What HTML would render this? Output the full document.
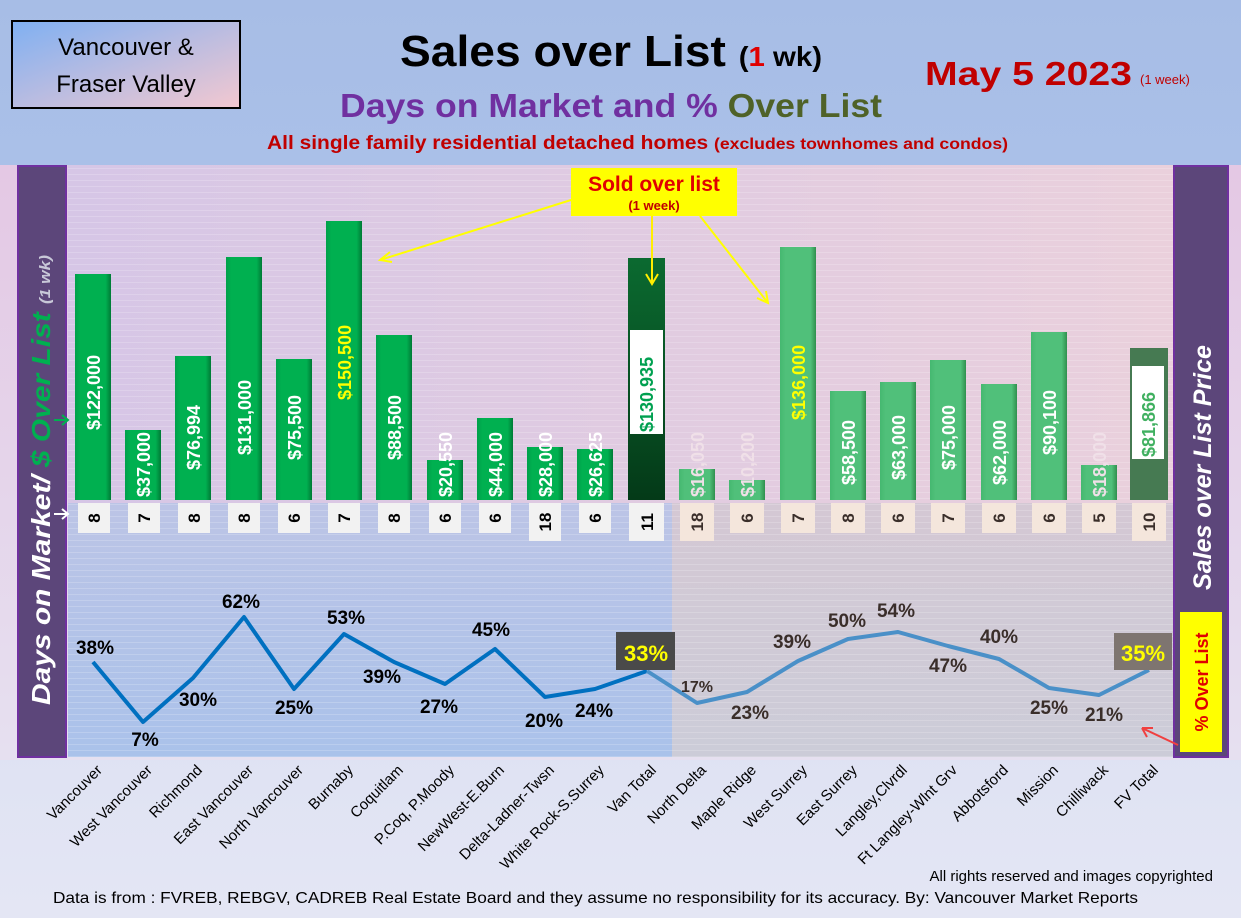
<!DOCTYPE html>
<html><head><meta charset="utf-8"><style>
body{margin:0;width:1241px;height:918px;overflow:hidden;font-family:"Liberation Sans",sans-serif}
</style></head><body>
<svg width="1241" height="918" xmlns="http://www.w3.org/2000/svg" font-family="Liberation Sans, sans-serif">
<defs>
<linearGradient id="hdr" x1="0" y1="0" x2="0" y2="1"><stop offset="0" stop-color="#a7bde6"/><stop offset="1" stop-color="#aac0e8"/></linearGradient>
<linearGradient id="up" x1="0" y1="0" x2="1" y2="0"><stop offset="0" stop-color="#d6c6e6"/><stop offset="1" stop-color="#ead0dc"/></linearGradient>
<linearGradient id="lowL" x1="0" y1="0" x2="0" y2="1"><stop offset="0" stop-color="#bcc4e6"/><stop offset="1" stop-color="#aac2ea"/></linearGradient>
<linearGradient id="lowR" x1="0" y1="0" x2="0" y2="1"><stop offset="0" stop-color="#d4c8d4"/><stop offset="1" stop-color="#ccccd8"/></linearGradient>
<linearGradient id="bot" x1="0" y1="0" x2="0" y2="1"><stop offset="0" stop-color="#c8d2ee"/><stop offset="1" stop-color="#e4e6f4"/></linearGradient>
<linearGradient id="side" x1="0" y1="0" x2="0" y2="1"><stop offset="0" stop-color="#e4c8e4"/><stop offset="1" stop-color="#e6e0f0"/></linearGradient>
<linearGradient id="gL" x1="0" y1="0" x2="1" y2="0"><stop offset="0" stop-color="#00a04a"/><stop offset=".15" stop-color="#00b050"/><stop offset=".85" stop-color="#00b050"/><stop offset="1" stop-color="#007a36"/></linearGradient>
<linearGradient id="gR" x1="0" y1="0" x2="1" y2="0"><stop offset="0" stop-color="#45b870"/><stop offset=".15" stop-color="#50c07a"/><stop offset=".85" stop-color="#50c07a"/><stop offset="1" stop-color="#30904e"/></linearGradient>
<linearGradient id="gV" x1="0" y1="0" x2="0" y2="1"><stop offset="0" stop-color="#0b6a30"/><stop offset="1" stop-color="#043a18"/></linearGradient>
<linearGradient id="box" x1="0" y1="0" x2="1" y2="1"><stop offset="0" stop-color="#7fb0f2"/><stop offset="1" stop-color="#f3c8d0"/></linearGradient>
<pattern id="str" width="10" height="6" patternUnits="userSpaceOnUse"><rect width="10" height="1" fill="#ffffff" opacity=".18"/></pattern>
</defs>
<rect width="1241" height="918" fill="url(#bot)"/>
<rect width="1241" height="165" fill="url(#hdr)"/>
<rect x="0" y="165" width="1241" height="595" fill="url(#side)"/>
<rect x="68" y="165" width="1106" height="338" fill="url(#up)"/>
<rect x="68" y="503" width="604" height="254" fill="url(#lowL)"/>
<rect x="672" y="503" width="502" height="254" fill="url(#lowR)"/>
<rect x="68" y="165" width="1106" height="592" fill="url(#str)"/>
<rect x="12" y="21" width="228" height="87" fill="url(#box)" stroke="#000" stroke-width="2"/>
<text x="126" y="55" font-size="24" text-anchor="middle">Vancouver &amp;</text>
<text x="126" y="92" font-size="24" text-anchor="middle">Fraser Valley</text>
<text x="400" y="66" font-size="44" font-weight="bold" textLength="422" lengthAdjust="spacingAndGlyphs">Sales over List <tspan font-size="28">(<tspan fill="#e00000">1</tspan> wk)</tspan></text>
<text x="340" y="117" font-size="33" font-weight="bold" fill="#7030a0" textLength="542" lengthAdjust="spacingAndGlyphs">Days on Market and % <tspan fill="#4f6228">Over List</tspan></text>
<text x="267" y="149" font-size="19" font-weight="bold" fill="#c00000" textLength="741" lengthAdjust="spacingAndGlyphs">All single family residential detached homes <tspan font-size="16">(excludes townhomes and condos)</tspan></text>
<text x="925" y="85" font-size="33" font-weight="bold" fill="#c00000" textLength="207" lengthAdjust="spacingAndGlyphs">May 5  2023</text>
<text x="1140" y="84" font-size="13" fill="#c00000">(1 week)</text>
<rect x="18" y="166" width="48" height="591" fill="#5c467a" stroke="#7030a0" stroke-width="2"/>
<text transform="translate(50,705) rotate(-90)" font-size="26" font-weight="bold" font-style="italic" fill="#fff" textLength="450" lengthAdjust="spacingAndGlyphs">Days on Market/ <tspan fill="#00b050">$ Over List</tspan> <tspan font-size="15" fill="#c8c8d8">(1 wk)</tspan></text>
<rect x="1174" y="166" width="54" height="591" fill="#5c467a" stroke="#7030a0" stroke-width="2"/>
<text transform="translate(1211,590) rotate(-90)" font-size="25" font-weight="bold" font-style="italic" fill="#fff" textLength="245" lengthAdjust="spacingAndGlyphs">Sales over List Price</text>
<rect x="1180" y="612" width="42" height="140" fill="#ffff00"/>
<text transform="translate(1208,682) rotate(-90)" text-anchor="middle" font-size="18" font-weight="bold" fill="#e00000">% Over List</text>
<path d="M1178 745 L1142 728 M1142 728 l11 0 M1142 728 l5 9" stroke="#f04040" stroke-width="2" fill="none"/>
<path d="M54 420 h14 m-6 -5 l6 5 l-6 5" stroke="#00b050" stroke-width="2" fill="none"/>
<path d="M54 514 h14 m-6 -5 l6 5 l-6 5" stroke="#fff" stroke-width="2" fill="none"/>
<g>
<rect x="75" y="274" width="36" height="226" fill="url(#gL)"/>
<rect x="125" y="430" width="36" height="70" fill="url(#gL)"/>
<rect x="175" y="356" width="36" height="144" fill="url(#gL)"/>
<rect x="226" y="257" width="36" height="243" fill="url(#gL)"/>
<rect x="276" y="359" width="36" height="141" fill="url(#gL)"/>
<rect x="326" y="221" width="36" height="279" fill="url(#gL)"/>
<rect x="376" y="335" width="36" height="165" fill="url(#gL)"/>
<rect x="427" y="460" width="36" height="40" fill="url(#gL)"/>
<rect x="477" y="418" width="36" height="82" fill="url(#gL)"/>
<rect x="527" y="447" width="36" height="53" fill="url(#gL)"/>
<rect x="577" y="449" width="36" height="51" fill="url(#gL)"/>
<rect x="628" y="258" width="37" height="242" fill="url(#gV)"/>
<rect x="679" y="469" width="36" height="31" fill="url(#gR)"/>
<rect x="729" y="480" width="36" height="20" fill="url(#gR)"/>
<rect x="780" y="247" width="36" height="253" fill="url(#gR)"/>
<rect x="830" y="391" width="36" height="109" fill="url(#gR)"/>
<rect x="880" y="382" width="36" height="118" fill="url(#gR)"/>
<rect x="930" y="360" width="36" height="140" fill="url(#gR)"/>
<rect x="981" y="384" width="36" height="116" fill="url(#gR)"/>
<rect x="1031" y="332" width="36" height="168" fill="url(#gR)"/>
<rect x="1081" y="465" width="36" height="35" fill="url(#gR)"/>
<rect x="1130" y="348" width="38" height="152" fill="#467a52"/>
<rect x="630" y="330" width="33" height="104" fill="#fff"/>
<rect x="1132" y="366" width="32" height="93" fill="#fff"/>
</g>
<g font-size="18" font-weight="bold" fill="#fff">
<text transform="translate(100,430) rotate(-90)">$122,000</text>
<text transform="translate(150,497) rotate(-90)">$37,000</text>
<text transform="translate(200,470) rotate(-90)">$76,994</text>
<text transform="translate(251,455) rotate(-90)">$131,000</text>
<text transform="translate(301,460) rotate(-90)">$75,500</text>
<text transform="translate(351,400) rotate(-90)" fill="#ffff00">$150,500</text>
<text transform="translate(401,460) rotate(-90)">$88,500</text>
<text transform="translate(452,497) rotate(-90)">$20,550</text>
<text transform="translate(502,497) rotate(-90)">$44,000</text>
<text transform="translate(552,497) rotate(-90)">$28,000</text>
<text transform="translate(602,497) rotate(-90)">$26,625</text>
<text transform="translate(653,432) rotate(-90)" fill="#00a050">$130,935</text>
<text transform="translate(704,497) rotate(-90)" fill="#f0e0e8">$16,050</text>
<text transform="translate(754,497) rotate(-90)" fill="#f0e0e8">$10,200</text>
<text transform="translate(805,420) rotate(-90)" fill="#ffff00">$136,000</text>
<text transform="translate(855,485) rotate(-90)">$58,500</text>
<text transform="translate(905,480) rotate(-90)">$63,000</text>
<text transform="translate(955,470) rotate(-90)">$75,000</text>
<text transform="translate(1006,485) rotate(-90)">$62,000</text>
<text transform="translate(1056,455) rotate(-90)">$90,100</text>
<text transform="translate(1106,497) rotate(-90)" fill="#f0e0e8">$18,000</text>
<text transform="translate(1155,457) rotate(-90)" fill="#40b060">$81,866</text>
</g>
<g fill="#f2f2f2">
<rect x="78" y="503" width="32" height="30"/><rect x="128" y="503" width="32" height="30"/><rect x="178" y="503" width="32" height="30"/><rect x="228" y="503" width="32" height="30"/><rect x="278" y="503" width="32" height="30"/><rect x="328" y="503" width="32" height="30"/><rect x="378" y="503" width="32" height="30"/><rect x="429" y="503" width="32" height="30"/><rect x="479" y="503" width="32" height="30"/><rect x="529" y="503" width="32" height="38"/><rect x="579" y="503" width="32" height="30"/><rect x="629" y="503" width="35" height="38"/>
</g>
<g fill="#f4e6dc">
<rect x="680" y="503" width="34" height="38"/><rect x="730" y="503" width="34" height="30"/><rect x="781" y="503" width="34" height="30"/><rect x="831" y="503" width="34" height="30"/><rect x="881" y="503" width="34" height="30"/><rect x="931" y="503" width="34" height="30"/><rect x="982" y="503" width="34" height="30"/><rect x="1032" y="503" width="34" height="30"/><rect x="1082" y="503" width="34" height="30"/><rect x="1132" y="503" width="34" height="38"/>
</g>
<g font-size="17" font-weight="bold" fill="#000">
<text transform="translate(100,518) rotate(-90)" text-anchor="middle">8</text>
<text transform="translate(150,518) rotate(-90)" text-anchor="middle">7</text>
<text transform="translate(200,518) rotate(-90)" text-anchor="middle">8</text>
<text transform="translate(250,518) rotate(-90)" text-anchor="middle">8</text>
<text transform="translate(300,518) rotate(-90)" text-anchor="middle">6</text>
<text transform="translate(350,518) rotate(-90)" text-anchor="middle">7</text>
<text transform="translate(400,518) rotate(-90)" text-anchor="middle">8</text>
<text transform="translate(451,518) rotate(-90)" text-anchor="middle">6</text>
<text transform="translate(501,518) rotate(-90)" text-anchor="middle">6</text>
<text transform="translate(551,522) rotate(-90)" text-anchor="middle">18</text>
<text transform="translate(601,518) rotate(-90)" text-anchor="middle">6</text>
<text transform="translate(653,522) rotate(-90)" text-anchor="middle">11</text>
<g fill="#3a2e2a">
<text transform="translate(703,522) rotate(-90)" text-anchor="middle">18</text>
<text transform="translate(753,518) rotate(-90)" text-anchor="middle">6</text>
<text transform="translate(804,518) rotate(-90)" text-anchor="middle">7</text>
<text transform="translate(854,518) rotate(-90)" text-anchor="middle">8</text>
<text transform="translate(904,518) rotate(-90)" text-anchor="middle">6</text>
<text transform="translate(954,518) rotate(-90)" text-anchor="middle">7</text>
<text transform="translate(1005,518) rotate(-90)" text-anchor="middle">6</text>
<text transform="translate(1055,518) rotate(-90)" text-anchor="middle">6</text>
<text transform="translate(1105,518) rotate(-90)" text-anchor="middle">5</text>
<text transform="translate(1155,522) rotate(-90)" text-anchor="middle">10</text>
</g></g>
<polyline points="93,662 143,722 193,678 244,617 294,689 344,634 394,662 445,684 495,649 545,697 595,689 647,671" fill="none" stroke="#0070c0" stroke-width="4" stroke-linejoin="round"/>
<polyline points="647,671 697,703 747,692 798,661 848,639 898,632 948,646 999,659 1049,688 1099,695 1149,670" fill="none" stroke="#4a90c8" stroke-width="4" stroke-linejoin="round"/>
<rect x="616" y="632" width="59" height="38" fill="#4a4a4a"/>
<rect x="1114" y="633" width="58" height="37" fill="#7e7570"/>
<g font-size="19" font-weight="bold" fill="#000" text-anchor="middle">
<text x="95" y="654">38%</text><text x="145" y="746">7%</text><text x="198" y="706">30%</text><text x="241" y="608">62%</text><text x="294" y="714">25%</text><text x="346" y="624">53%</text><text x="382" y="683">39%</text><text x="439" y="713">27%</text><text x="491" y="636">45%</text><text x="544" y="727">20%</text><text x="594" y="717">24%</text>
<text x="646" y="661" font-size="22" fill="#ffff00">33%</text><text x="1143" y="661" font-size="22" fill="#ffff00">35%</text>
<g fill="#3a2e2a"><text x="697" y="692" font-size="16">17%</text><text x="750" y="719">23%</text><text x="792" y="648">39%</text><text x="847" y="627">50%</text><text x="896" y="617">54%</text><text x="948" y="672">47%</text><text x="999" y="643">40%</text><text x="1049" y="714">25%</text><text x="1104" y="721">21%</text></g>
</g>
<rect x="571" y="168" width="166" height="48" fill="#ffff00"/>
<text x="654" y="191" font-size="21" font-weight="bold" fill="#e00000" text-anchor="middle">Sold over list</text>
<text x="654" y="210" font-size="13" font-weight="bold" fill="#c00000" text-anchor="middle">(1 week)</text>
<g stroke="#ffff00" stroke-width="2" fill="none">
<path d="M571 200 L380 260 m10 -8 l-10 8 l12 2"/>
<path d="M652 216 V284 m-6 -10 l6 10 l6 -10" stroke="#ffee00"/>
<path d="M700 216 L768 303 m-2 -12 l2 12 l-11 -5"/>
</g>
<g font-size="15" fill="#000" text-anchor="end">
<text transform="translate(103,771) rotate(-45)">Vancouver</text>
<text transform="translate(153,771) rotate(-45)">West Vancouver</text>
<text transform="translate(203,771) rotate(-45)">Richmond</text>
<text transform="translate(254,771) rotate(-45)">East Vancouver</text>
<text transform="translate(304,771) rotate(-45)">North Vancouver</text>
<text transform="translate(354,771) rotate(-45)">Burnaby</text>
<text transform="translate(404,771) rotate(-45)">Coquitlam</text>
<text transform="translate(455,771) rotate(-45)">P.Coq, P.Moody</text>
<text transform="translate(505,771) rotate(-45)">NewWest-E.Burn</text>
<text transform="translate(555,771) rotate(-45)">Delta-Ladner-Twsn</text>
<text transform="translate(605,771) rotate(-45)">White Rock-S.Surrey</text>
<text transform="translate(657,771) rotate(-45)">Van Total</text>
<text transform="translate(707,771) rotate(-45)">North Delta</text>
<text transform="translate(757,771) rotate(-45)">Maple Ridge</text>
<text transform="translate(808,771) rotate(-45)">West Surrey</text>
<text transform="translate(858,771) rotate(-45)">East Surrey</text>
<text transform="translate(908,771) rotate(-45)">Langley,Clvrdl</text>
<text transform="translate(958,771) rotate(-45)">Ft Langley-Wlnt Grv</text>
<text transform="translate(1009,771) rotate(-45)">Abbotsford</text>
<text transform="translate(1059,771) rotate(-45)">Mission</text>
<text transform="translate(1109,771) rotate(-45)">Chilliwack</text>
<text transform="translate(1159,771) rotate(-45)">FV Total</text>
</g>
<text x="1213" y="881" font-size="15" text-anchor="end">All rights reserved and  images copyrighted</text>
<text x="53" y="903" font-size="16" textLength="1085" lengthAdjust="spacingAndGlyphs">Data is from : FVREB, REBGV, CADREB Real Estate Board and they assume no responsibility for its accuracy. By: Vancouver Market Reports</text>
</svg>
</body></html>
